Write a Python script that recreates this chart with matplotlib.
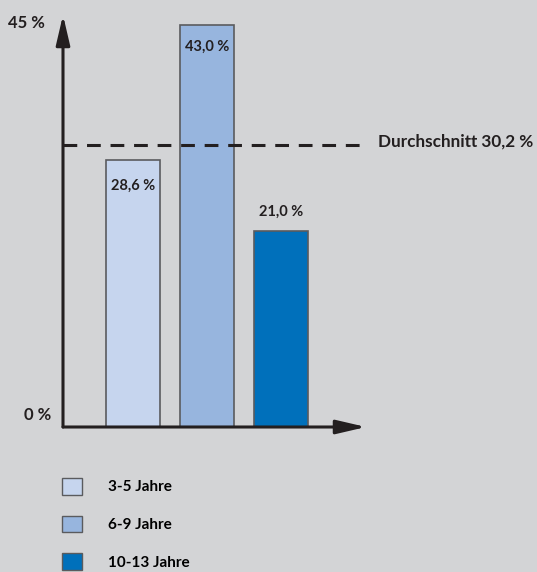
import matplotlib.pyplot as plt
from matplotlib.patches import Patch

plt.rcParams['font.family'] = ['Lato', 'DejaVu Sans']

# data
groups = ['3-5 Jahre', '6-9 Jahre', '10-13 Jahre']
values = [28.6, 43.0, 21.0]
labels = ['28,6 %', '43,0 %', '21,0 %']
average = 30.2
average_label = 'Durchschnitt 30,2 %'
colors = ['#c6d5ee', '#97b5de', '#0070bb']

bg = '#d3d4d6'
ink = '#231f20'

W, H = 537, 572
fig = plt.figure(figsize=(W / 100, H / 100), dpi=100, facecolor=bg)

# axes placed so that 0 % sits at y=427 px and 45 % at y=6 px
x0_px, y0_px = 63, 427
px_per_unit = 402 / 43.0
top_px = y0_px - 45 * px_per_unit
ax = fig.add_axes([x0_px / W, 1 - y0_px / H, 1 - x0_px / W, (y0_px - top_px) / H])
ax.set_facecolor(bg)
ax.set_ylim(0, 45)
step = 74.0
xmin = (x0_px - 133) / step
xmax = (W - 133) / step
ax.set_xlim(xmin, xmax)
for s in ax.spines.values():
    s.set_visible(False)
ax.set_xticks([])
ax.set_yticks([])

x = list(range(len(values)))
bars = ax.bar(x, values, width=54 / step, color=colors, edgecolor='#5a5b5e',
              linewidth=1.2, zorder=2)

# average line
x_end = (365 - 133) / step
ax.plot([xmin, x_end], [average, average], color=ink, lw=2.2,
        dashes=(4.5, 3.2), zorder=3)
ax.text((378 - 133) / step, average + 0.3, average_label, fontsize=12.3,
        fontweight='bold', color=ink, va='center', ha='left')

# value labels
ax.text(x[0], values[0] - 2.0, labels[0], ha='center', va='top',
        fontsize=10.5, fontweight='bold', color=ink, zorder=4)
ax.text(x[1], values[1] - 1.6, labels[1], ha='center', va='top',
        fontsize=10.5, fontweight='bold', color=ink, zorder=4)
ax.text(x[2], values[2] + 1.3, labels[2], ha='center', va='bottom',
        fontsize=10.5, fontweight='bold', color=ink, zorder=4)

# axis arrows
y_tip = (y0_px - 15) / px_per_unit
arrow = dict(arrowstyle='-|>,head_length=1.8,head_width=0.42',
             color=ink, lw=2.2, shrinkA=0, shrinkB=0)
ax.annotate('', xy=(xmin, y_tip), xytext=(xmin, 0), arrowprops=arrow,
            annotation_clip=False, zorder=5)
ax.annotate('', xy=((366 - 133) / step, 0), xytext=(xmin, 0), arrowprops=arrow,
            annotation_clip=False, zorder=5)

fig.text(8 / W, 1 - 23 / H, '45 %', fontsize=12, fontweight='bold',
         color=ink, va='center', ha='left')
fig.text(24 / W, 1 - 415 / H, '0 %', fontsize=12, fontweight='bold',
         color=ink, va='center', ha='left')

# legend
handles = [Patch(facecolor=c, edgecolor='#5a5b5e', lw=1.0) for c in colors]
fig.legend(handles, groups, loc='upper left',
           bbox_to_anchor=(62 / W, 1 - 478 / H), frameon=False,
           prop={'weight': 'bold', 'size': 11},
           handlelength=1.3, handleheight=1.3, handletextpad=1.7,
           labelspacing=1.38, borderpad=0, borderaxespad=0)

fig.savefig('out.png', dpi=100, facecolor=bg)
